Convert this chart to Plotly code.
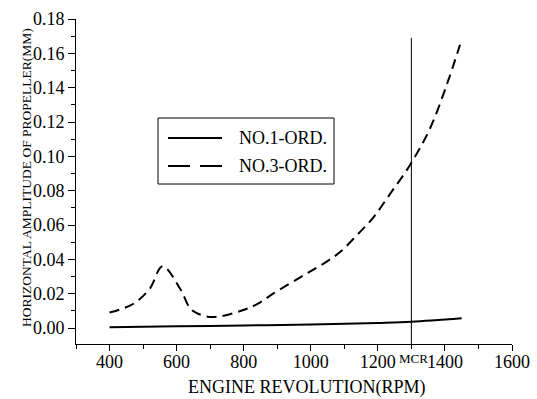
import plotly.graph_objects as go

# ---- data ----
rpm1 = [400, 600, 800, 1000, 1200, 1300, 1450]
amp1 = [0.0004, 0.001, 0.0015, 0.002, 0.003, 0.0037, 0.0057]

rpm3 = [400, 470, 520, 558, 610, 640, 660, 707, 790, 840, 890, 990, 1050, 1090, 1140, 1185, 1236, 1296, 1355, 1406, 1445]
amp3 = [0.009, 0.014, 0.023, 0.036, 0.023, 0.0116, 0.0087, 0.0064, 0.0099, 0.0139, 0.0203, 0.032, 0.039, 0.0447, 0.0546, 0.064, 0.078, 0.095, 0.116, 0.142, 0.165]

series_names = ["NO.1-ORD.", "NO.3-ORD."]
mcr_x = 1300
mcr_top = 0.169

xticks = [400, 600, 800, 1000, 1200, 1400, 1600]
yticks = [0.00, 0.02, 0.04, 0.06, 0.08, 0.10, 0.12, 0.14, 0.16, 0.18]

# ---- layout geometry (pixels) ----
W, H = 537, 399
L, R, T, B = 76, 25, 19, 55
PW, PH = W - L - R, H - T - B


def px(x):
    return (x - L) / PW


def py(y):
    return (H - B - y) / PH


font = "Liberation Serif"

fig = go.Figure()
fig.add_trace(go.Scatter(x=rpm1, y=amp1, mode="lines", name=series_names[0], showlegend=False,
                         line=dict(color="black", width=2, shape="spline")))
fig.add_trace(go.Scatter(x=rpm3, y=amp3, mode="lines", name=series_names[1], showlegend=False,
                         line=dict(color="black", width=2, dash="10px,6px", shape="spline")))

# MCR line
fig.add_shape(type="line", x0=mcr_x, x1=mcr_x, y0=-0.0093, y1=mcr_top, xref="x", yref="y",
              line=dict(color="black", width=1))
fig.add_annotation(x=mcr_x, y=py(349), xref="x", yref="paper", text="MCR", showarrow=False,
                   yanchor="top", xshift=2, font=dict(family=font, size=13, color="black"))

# manual legend
fig.add_shape(type="rect", xref="paper", yref="paper", x0=px(158), x1=px(334), y0=py(184), y1=py(118),
              line=dict(color="black", width=1), fillcolor="white", layer="above")
rows = [138, 166]
dashes = ["solid", "22px,10px"]
for name, row, d in zip(series_names, rows, dashes):
    fig.add_shape(type="line", xref="paper", yref="paper", x0=px(168), x1=px(222), y0=py(row), y1=py(row),
                  line=dict(color="black", width=2, dash=d), layer="above")
    fig.add_annotation(xref="paper", yref="paper", x=px(237), y=py(row), text=name, showarrow=False,
                       xanchor="left", yanchor="middle", font=dict(family=font, size=18, color="black"))

# axis titles
fig.add_annotation(xref="paper", yref="paper", x=px(306), y=py(387), text="ENGINE REVOLUTION(RPM)",
                   showarrow=False, xanchor="center", yanchor="middle",
                   font=dict(family=font, size=18, color="black"))
fig.add_annotation(xref="paper", yref="paper", x=px(26), y=py(178), text="HORIZONTAL AMPLITUDE OF PROPELLER(MM)",
                   showarrow=False, xanchor="center", yanchor="middle", textangle=-90,
                   font=dict(family=font, size=13.5, color="black"))

fig.update_layout(
    width=W, height=H,
    margin=dict(l=L, r=R, t=T, b=B),
    paper_bgcolor="white", plot_bgcolor="white",
    font=dict(family=font, color="black", size=17),
    showlegend=False,
    xaxis=dict(range=[300, 1600], tickvals=xticks, ticks="outside", ticklen=6, tickcolor="black",
               showline=True, linecolor="black", linewidth=1, showgrid=False, zeroline=False,
               tickfont=dict(family=font, size=18), automargin=False, ticklabelstandoff=-5,
               minor=dict(dtick=100, tick0=0, ticks="outside", ticklen=4, tickcolor="black")),
    yaxis=dict(range=[-0.0093, 0.18], tickvals=yticks, tickformat=".2f", ticks="outside", ticklen=7,
               tickcolor="black",
               showline=True, linecolor="black", linewidth=1, showgrid=False, zeroline=False,
               tickfont=dict(family=font, size=18), automargin=False,
               minor=dict(dtick=0.01, tick0=0, ticks="outside", ticklen=4, tickcolor="black")),
)

fig.write_html("out.html", config={"displayModeBar": False},
               post_script="document.body.style.margin='0';document.body.style.overflow='hidden';")
